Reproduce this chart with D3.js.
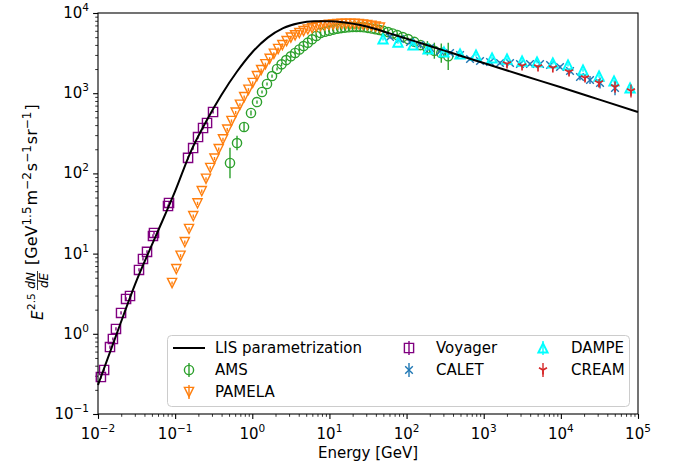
<!DOCTYPE html>
<html><head><meta charset="utf-8">
<script src="https://cdn.jsdelivr.net/npm/d3@7"></script>
<style>
html,body{margin:0;padding:0;background:#fff;}
svg{display:block;font-family:"DejaVu Sans",sans-serif;}
</style></head>
<body>
<svg id="chart" width="678" height="466"></svg>
<script>
// ---------- data ----------
const xTicks = [1e-2,1e-1,1e0,1e1,1e2,1e3,1e4,1e5];
const xTickExp = ["−2","−1","0","1","2","3","4","5"];
const yTicks = [1e-1,1e0,1e1,1e2,1e3,1e4];
const yTickExp = ["−1","0","1","2","3","4"];

const lisE = [0.01,0.0178,0.0316,0.0562,0.1,0.158,0.251,0.398,0.631,1,1.585,2.512,3.981,6.31,10,15.85,25.12,39.81,63.1,100,177.8,316.2,562.3,1000,3162,10000,31620,100000];
const lisV = [0.23,1.05,4.6,16.6,60,183,440,950,1850,3240,4930,6490,7470,7890,7900,7630,7080,6310,5495,4786,4018,3373,2831,2377,1675,1186,832,583];

const amsE = [0.514,0.634,0.782,0.962,1.151,1.337,1.552,1.803,2.094,2.399,2.754,3.162,3.589,4.074,4.624,5.248,5.957,6.761,7.674,8.71,9.886,11.22,12.59,14.13,15.85,17.78,19.95,22.39,25.12,28.18,31.62,35.48,39.81,44.67,50.12,57.54,66.07,75.86,89.13,104.7,125.9,151.4,186.2,229.1,281.8,346.7];
const amsV = [135,239,379,566,776,1035,1303,1637,2004,2291,2588,2884,3177,3508,3873,4266,4699,5176,5649,5834,6026,6209,6368,6486,6577,6637,6683,6699,6699,6637,6531,6397,6266,6138,5984,5781,5559,5309,5012,4732,4365,3981,3631,3388,3162,2884];
const amsErr = [0.19,0.09,0.05,0.03,0.02,0.02,0.02,0.02,0.02,0.02,0.02,0.02,0.02,0.02,0.02,0.02,0.02,0.02,0.02,0.02,0.02,0.02,0.02,0.02,0.02,0.02,0.02,0.02,0.02,0.02,0.02,0.02,0.02,0.02,0.02,0.02,0.02,0.02,0.02,0.02,0.03,0.04,0.09,0.10,0.12,0.17];

const pamE = [0.0912,0.1035,0.1175,0.1334,0.1514,0.1718,0.195,0.2213,0.2512,0.2851,0.3236,0.3673,0.4169,0.4732,0.537,0.6095,0.6918,0.7852,0.8913,1.012,1.148,1.303,1.479,1.679,1.905,2.163,2.455,2.786,3.162,3.589,4.074,4.624,5.248,5.957,6.761,7.674,8.71,9.886,11.22,12.74,14.45,16.41,18.62,21.13,23.99,27.23,30.9,35.08,39.81,45.19];
const pamV = [4.3,6.4,9.4,13.9,20.3,29.3,42.3,60.1,85.7,117,153,201,266,352,450,573,718,893,1104,1343,1633,1945,2296,2685,3105,3556,3981,4457,4943,5272,5623,5957,6237,6486,6699,6887,7015,7112,7194,7261,7311,7345,7345,7328,7278,7194,7079,6934,6761,6577];

const voyE = [0.0109,0.0120,0.0143,0.0156,0.0171,0.0199,0.0231,0.0260,0.0340,0.0383,0.0432,0.0516,0.0532,0.0808,0.0833,0.147,0.171,0.198,0.230,0.259,0.310];
const voyV = [0.289,0.354,0.684,0.861,1.15,1.82,2.72,2.96,6.25,8.57,10.5,16.6,18.1,39.2,42.8,156,207,284,368,425,583];

const calE = [61,82.2,110.9,149.3,201.4,271.6,365.9,493.2,664.7,895.4,1208,1626,2193,2951,3981,5370,7244,9750,13150,17700,23880,32210,50350];
const calV = [5023,4742,4345,3990,3664,3365,3177,2999,2667,2518,2449,2382,2382,2312,2312,2312,2249,2124,1892,1592,1462,1340,1161];
const calErr = [0.02,0.02,0.02,0.02,0.02,0.02,0.02,0.02,0.02,0.02,0.02,0.02,0.02,0.02,0.02,0.02,0.02,0.02,0.03,0.04,0.05,0.07,0.09];

const dmpE = [49.5,77.4,121.1,189.7,305.5,493.2,794.3,1282,2004,3141,4909,7870,12380,19360,31260,48870,78890];
const dmpV = [4742,4345,3990,3556,3266,3083,2992,2748,2667,2518,2449,2382,2249,1945,1637,1419,1161];

const crmE = [2004,3141,5058,7870,12760,20560,31260,50350,81100];
const crmV = [2312,2183,2124,2061,1837,1549,1340,1194,1064];
const crmErr = [0.02,0.02,0.02,0.02,0.03,0.04,0.05,0.07,0.08];

// ---------- layout ----------
const svg = d3.select("#chart");
const L = 98, R = 638, T = 13, B = 414;
const x = d3.scaleLog().domain([1e-2,1e5]).range([L,R]);
const y = d3.scaleLog().domain([0.1,1e4]).range([B,T]);

const C = {ams:"#2ca02c", pam:"#ff7f0e", voy:"#800080", cal:"#1f77b4", dmp:"#00ffff", crm:"#d62728"};

function minors(lo, hi){ const a=[]; for(let e=lo;e<hi;e++) for(let k=2;k<10;k++) a.push(k*Math.pow(10,e)); return a; }

const gx = svg.append("g").attr("transform",`translate(0,${B})`);
gx.call(d3.axisBottom(x).tickValues(minors(-2,5)).tickFormat("").tickSize(2.8).tickSizeOuter(0));
const gx2 = svg.append("g").attr("transform",`translate(0,${B})`);
gx2.call(d3.axisBottom(x).tickValues(xTicks).tickFormat("").tickSize(4.9).tickSizeOuter(0));
const gy = svg.append("g").attr("transform",`translate(${L},0)`);
gy.call(d3.axisLeft(y).tickValues(minors(-1,4)).tickFormat("").tickSize(2.8).tickSizeOuter(0));
const gy2 = svg.append("g").attr("transform",`translate(${L},0)`);
gy2.call(d3.axisLeft(y).tickValues(yTicks).tickFormat("").tickSize(4.9).tickSizeOuter(0));
svg.selectAll(".domain").remove();
svg.selectAll(".tick line").attr("stroke","#000").attr("stroke-width",0.8);
gx2.selectAll(".tick line").attr("stroke-width",1.1);
gy2.selectAll(".tick line").attr("stroke-width",1.1);

// tick labels
xTicks.forEach((v,i)=>{
  const t = svg.append("text").attr("x",x(v)).attr("y",439).attr("text-anchor","middle")
    .attr("font-size",15).attr("fill","#000");
  t.append("tspan").text("10");
  t.append("tspan").attr("font-size",10.5).attr("dy",-7).text(xTickExp[i]);
});
yTicks.forEach((v,i)=>{
  const t = svg.append("text").attr("x",89).attr("y",y(v)+5).attr("text-anchor","end")
    .attr("font-size",15).attr("fill","#000");
  t.append("tspan").text("10");
  t.append("tspan").attr("font-size",10.5).attr("dy",-7).text(yTickExp[i]);
});

// axis labels
svg.append("text").attr("x",(L+R)/2).attr("y",458).attr("text-anchor","middle")
  .attr("font-size",15).text("Energy [GeV]");

const yl = svg.append("g").attr("transform","translate(43,320) rotate(-90)").attr("font-size",15);
yl.append("text").attr("x",0).attr("y",0).attr("font-style","italic").text("E");
yl.append("text").attr("x",10).attr("y",-8).attr("font-size",10.5).text("2.5");
yl.append("text").attr("x",39.5).attr("y",-8).attr("font-size",12).attr("font-style","italic").attr("text-anchor","middle").text("dN");
yl.append("line").attr("x1",30).attr("x2",49).attr("y1",-5.5).attr("y2",-5.5).attr("stroke","#000").attr("stroke-width",0.8);
yl.append("text").attr("x",39.5).attr("y",4.5).attr("font-size",12).attr("font-style","italic").attr("text-anchor","middle").text("dE");
const ul = yl.append("text").attr("x",55).attr("y",-6).attr("font-size",16);
ul.append("tspan").text("[GeV");
ul.append("tspan").attr("font-size",12).attr("dy",-6.5).text("1.5");
ul.append("tspan").attr("dy",6.5).attr("dx",1).text("m");
ul.append("tspan").attr("font-size",12).attr("dy",-6.5).text("−2");
ul.append("tspan").attr("dy",6.5).attr("dx",1).text("s");
ul.append("tspan").attr("font-size",12).attr("dy",-6.5).text("−1");
ul.append("tspan").attr("dy",6.5).attr("dx",1).text("sr");
ul.append("tspan").attr("font-size",12).attr("dy",-6.5).text("−1");
ul.append("tspan").attr("dy",6.5).attr("dx",1).text("]");

// markers
const r = 4.6;
const markerPath = {
  circle: d3.symbol().type(d3.symbolCircle).size(Math.PI*r*r)(),
  square: `M${-r},${-r}H${r}V${r}H${-r}Z`,
  tdown: `M${-r},${-r}L${r},${-r}L0,${r}Z`,
  tup: `M0,${-r}L${r},${r}L${-r},${r}Z`,
  xmark: `M-3.8,-3.8L3.8,3.8M-3.8,3.8L3.8,-3.8`,
  tri1: `M0,0L0,${r}M0,0L${-r*0.87},${-r*0.5}M0,0L${r*0.87},${-r*0.5}`
};

const plot = svg.append("g");
function series(E, V, err, color, shape, sw, fill){
  const g = plot.append("g");
  E.forEach((e,i)=>{
    const d = err ? err[i] : 0.02;
    g.append("line").attr("x1",x(e)).attr("x2",x(e))
      .attr("y1",y(V[i]*Math.pow(10,-d))).attr("y2",y(V[i]*Math.pow(10,d)))
      .attr("stroke",color).attr("stroke-width",1.4);
    g.append("path").attr("d",markerPath[shape]).attr("transform",`translate(${x(e)},${y(V[i])})`)
      .attr("fill",fill||"none").attr("stroke",color).attr("stroke-width",sw);
  });
}
series(amsE, amsV, amsErr, C.ams, "circle", 1.4);
series(pamE, pamV, null, C.pam, "tdown", 1.4);
series(voyE, voyV, null, C.voy, "square", 1.4);
series(calE, calV, calErr, C.cal, "xmark", 1.4);
series(dmpE, dmpV, null, C.dmp, "tup", 2, "none");
series(crmE, crmV, crmErr, C.crm, "tri1", 1.7);

// LIS line
const line = d3.line().x((d,i)=>x(lisE[i])).y((d,i)=>y(lisV[i])).curve(d3.curveMonotoneX);
plot.append("path").attr("d",line(lisE)).attr("fill","none").attr("stroke","#000").attr("stroke-width",2);

// frame
svg.append("rect").attr("x",L).attr("y",T).attr("width",R-L).attr("height",B-T)
  .attr("fill","none").attr("stroke","#000").attr("stroke-width",1.1);

// legend
const lg = svg.append("g");
lg.append("rect").attr("x",167.5).attr("y",335.5).attr("width",462).attr("height",71).attr("rx",4)
  .attr("fill","#fff").attr("fill-opacity",0.8).attr("stroke","#cccccc").attr("stroke-width",1);
const legendItems = [
  {label:"LIS parametrization", type:"line", cx:189, tx:215, cy:348},
  {label:"AMS", color:C.ams, shape:"circle", sw:1.4, cx:189, tx:215, cy:370},
  {label:"PAMELA", color:C.pam, shape:"tdown", sw:1.4, cx:189, tx:215, cy:392},
  {label:"Voyager", color:C.voy, shape:"square", sw:1.4, cx:409, tx:436, cy:348},
  {label:"CALET", color:C.cal, shape:"xmark", sw:1.4, cx:409, tx:436, cy:370},
  {label:"DAMPE", color:C.dmp, shape:"tup", sw:2, cx:543, tx:571, cy:348},
  {label:"CREAM", color:C.crm, shape:"tri1", sw:1.7, cx:543, tx:571, cy:370}
];
legendItems.forEach(it=>{
  if(it.type==="line"){
    lg.append("line").attr("x1",it.cx-16).attr("x2",it.cx+16).attr("y1",it.cy).attr("y2",it.cy)
      .attr("stroke","#000").attr("stroke-width",2);
  } else {
    lg.append("line").attr("x1",it.cx).attr("x2",it.cx).attr("y1",it.cy-7).attr("y2",it.cy+7)
      .attr("stroke",it.color).attr("stroke-width",1.4);
    lg.append("path").attr("d",markerPath[it.shape]).attr("transform",`translate(${it.cx},${it.cy})`)
      .attr("fill","none").attr("stroke",it.color).attr("stroke-width",it.sw);
  }
  lg.append("text").attr("x",it.tx).attr("y",it.cy+5.3).attr("font-size",15).text(it.label);
});
</script>
</body></html>
